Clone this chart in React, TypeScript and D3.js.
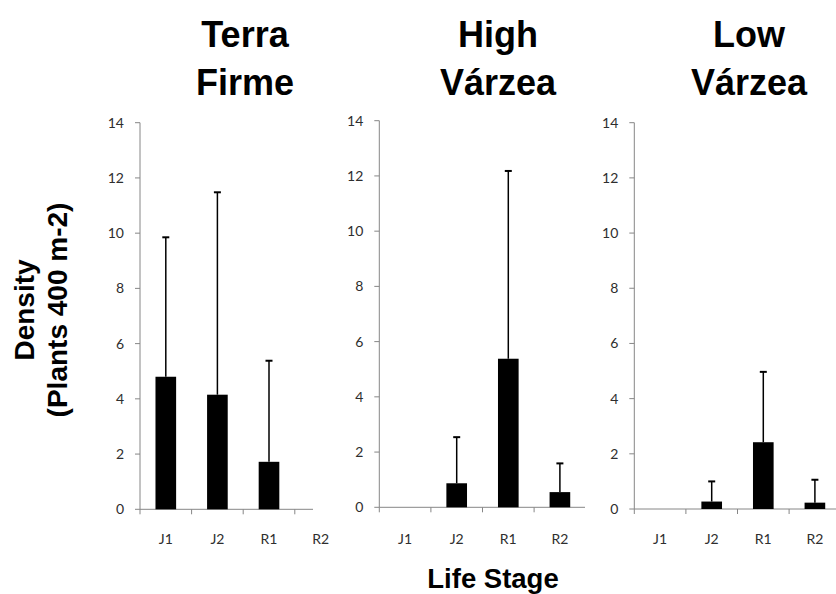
import React from "react";
import * as d3 from "d3";

const stages = ["J1", "J2", "R1", "R2"];
const yTicks = [0, 2, 4, 6, 8, 10, 12, 14];

const terraFirmeMean = [4.8, 4.15, 1.72, 0];
const terraFirmeErr = [5.05, 7.33, 3.66, null];
const highVarzeaMean = [0, 0.87, 5.38, 0.55];
const highVarzeaErr = [null, 1.67, 6.8, 1.04];
const lowVarzeaMean = [0, 0.27, 2.42, 0.23];
const lowVarzeaErr = [null, 0.73, 2.55, 0.83];

const titles = [
  ["Terra", "Firme"],
  ["High", "Várzea"],
  ["Low", "Várzea"],
];

const panels = [
  { mean: terraFirmeMean, err: terraFirmeErr, title: titles[0], x0: 140, y0: 509.3, y14: 122.7, axisEnd: 313, titleX: 245 },
  { mean: highVarzeaMean, err: highVarzeaErr, title: titles[1], x0: 379.3, y0: 507.3, y14: 120.7, axisEnd: 585, titleX: 498 },
  { mean: lowVarzeaMean, err: lowVarzeaErr, title: titles[2], x0: 634.3, y0: 509, y14: 122.7, axisEnd: 836, titleX: 749 },
];

const BAND = 51.6;
const AXIS = "#868686";
const TICK_TEXT = "#2e2e2e";
const TICK_FONT = "Lato, 'Open Sans', sans-serif";
const BOLD_FONT = "'Liberation Sans', Arial, sans-serif";

function Panel({ p }: { p: (typeof panels)[number] }) {
  const x = d3.scaleBand<string>().domain(stages).range([p.x0, p.x0 + BAND * stages.length]).padding(0);
  const y = d3.scaleLinear().domain([0, 14]).range([p.y0, p.y14]);
  const bw = x.bandwidth() * 0.4;
  return (
    <g>
      <text x={p.titleX} y={46.5} textAnchor="middle" fontFamily={BOLD_FONT} fontWeight="bold" fontSize={36} fill="#000">
        {p.title[0]}
      </text>
      <text x={p.titleX} y={95} textAnchor="middle" fontFamily={BOLD_FONT} fontWeight="bold" fontSize={36} fill="#000">
        {p.title[1]}
      </text>
      {/* y axis */}
      <line x1={p.x0} x2={p.x0} y1={y(14)} y2={y(0)} stroke={AXIS} strokeWidth={1} />
      {yTicks.map((t) => (
        <g key={t}>
          <line x1={p.x0 - 5} x2={p.x0} y1={y(t)} y2={y(t)} stroke={AXIS} strokeWidth={1} />
          <text
            x={p.x0 - 16}
            y={y(t)}
            dy="0.36em"
            textAnchor="end"
            fontFamily={TICK_FONT}
            fontSize={14}
            fill={TICK_TEXT}
          >
            {t}
          </text>
        </g>
      ))}
      {/* x axis */}
      <line x1={p.x0} x2={p.axisEnd} y1={y(0)} y2={y(0)} stroke={AXIS} strokeWidth={1} />
      {stages.map((s) => {
        const bx = x(s)!;
        return (
          <g key={s}>
            {bx <= p.axisEnd && (
              <line x1={bx} x2={bx} y1={y(0)} y2={y(0) + 5} stroke={AXIS} strokeWidth={1} />
            )}
            <text
              x={bx + x.bandwidth() / 2}
              y={539}
              dy="0.36em"
              textAnchor="middle"
              fontFamily={TICK_FONT}
              fontSize={14}
              fill={TICK_TEXT}
            >
              {s}
            </text>
          </g>
        );
      })}
      {/* bars */}
      {stages.map((s, i) => {
        const m = p.mean[i];
        const e = p.err[i];
        const cx = x(s)! + x.bandwidth() / 2;
        return (
          <g key={"b" + s}>
            {m > 0 && <rect x={cx - bw / 2} y={y(m)} width={bw} height={y(0) - y(m)} fill="#000" />}
            {e != null && (
              <g>
                <line x1={cx} x2={cx} y1={y(m)} y2={y(m + e)} stroke="#000" strokeWidth={1.5} />
                <line x1={cx - 3.5} x2={cx + 3.5} y1={y(m + e)} y2={y(m + e)} stroke="#000" strokeWidth={2} />
              </g>
            )}
          </g>
        );
      })}
    </g>
  );
}

export default function App() {
  return (
    <svg
      width={836}
      height={594}
      viewBox="0 0 836 594"
      style={{ position: "absolute", left: 0, top: 0, background: "#fff" }}
    >
      <rect x={0} y={0} width={836} height={594} fill="#fff" />
      {panels.map((p, i) => (
        <Panel key={i} p={p} />
      ))}
      <g transform="translate(34,310) rotate(-90)">
        <text textAnchor="middle" fontFamily={BOLD_FONT} fontWeight="bold" fontSize={28} fill="#000">
          Density
        </text>
      </g>
      <g transform="translate(67,310) rotate(-90)">
        <text textAnchor="middle" fontFamily={BOLD_FONT} fontWeight="bold" fontSize={28} fill="#000">
          (Plants 400 m-2)
        </text>
      </g>
      <text x={493} y={588} textAnchor="middle" fontFamily={BOLD_FONT} fontWeight="bold" fontSize={27.5} fill="#000">
        Life Stage
      </text>
    </svg>
  );
}
